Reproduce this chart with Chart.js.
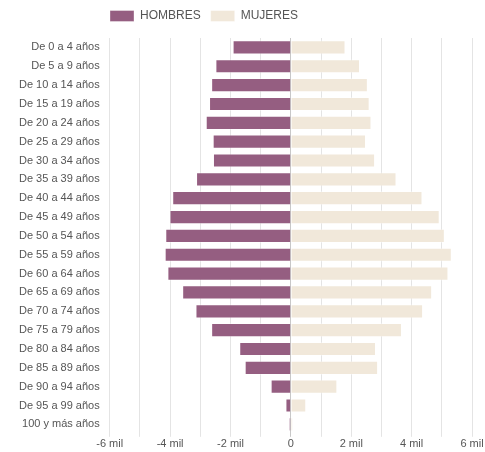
<!DOCTYPE html>
<html>
<head>
<meta charset="utf-8">
<script src="https://cdn.jsdelivr.net/npm/chart.js@4"></script>
<style>
  html, body { margin: 0; padding: 0; background: #fff; }
  #wrap { width: 485px; height: 452px; position: relative; }
</style>
</head>
<body>
<div id="wrap"><canvas id="c"></canvas></div>
<script>
const categories = ["De 0 a 4 años","De 5 a 9 años","De 10 a 14 años","De 15 a 19 años","De 20 a 24 años","De 25 a 29 años","De 30 a 34 años","De 35 a 39 años","De 40 a 44 años","De 45 a 49 años","De 50 a 54 años","De 55 a 59 años","De 60 a 64 años","De 65 a 69 años","De 70 a 74 años","De 75 a 79 años","De 80 a 84 años","De 85 a 89 años","De 90 a 94 años","De 95 a 99 años","100 y más años"];
const hombres = [-1930,-2500,-2640,-2710,-2820,-2590,-2580,-3140,-3930,-4020,-4160,-4180,-4090,-3600,-3160,-2640,-1710,-1530,-670,-180,-60];
const mujeres = [1810,2290,2550,2610,2670,2490,2790,3500,4360,4930,5100,5330,5220,4680,4380,3680,2820,2890,1540,510,70];
const seriesNames = ["HOMBRES","MUJERES"];
const xMin = -6000, xMax = 6000, xStep = 1000;

const FONT = 'Liberation Sans, Arial, sans-serif';

const legendTweak = {
  id: 'legendTweak',
  beforeInit(chart) {
    const lg = chart.legend;
    if (lg) {
      const origFit = lg.fit;
      lg.fit = function() { origFit.call(this); this.height += 6; };
    }
  },
  beforeDraw(chart) {
    if (chart.legend) { chart.legend.left = 100; }
  }
};

new Chart(document.getElementById('c'), {
  type: 'bar',
  data: {
    labels: categories,
    datasets: [
      { label: seriesNames[0], data: hombres, backgroundColor: '#955e81', borderColor: 'rgba(255,255,255,0.35)', borderWidth: 1, categoryPercentage: 0.8, barPercentage: 0.94 },
      { label: seriesNames[1], data: mujeres, backgroundColor: '#f1e8da', borderColor: 'rgba(255,255,255,0.35)', borderWidth: 1, categoryPercentage: 0.8, barPercentage: 0.94 }
    ]
  },
  plugins: [legendTweak],
  options: {
    indexAxis: 'y',
    responsive: true,
    maintainAspectRatio: false,
    animation: false,
    layout: { padding: { left: 9, right: 13, top: 0, bottom: 0 } },
    plugins: {
      legend: {
        position: 'top',
        align: 'start',
        labels: {
          boxWidth: 24, boxHeight: 11, padding: 10,
          color: '#555',
          font: { family: FONT, size: 12 }
        }
      },
      tooltip: { enabled: false }
    },
    scales: {
      x: {
        stacked: true,
        min: xMin, max: xMax,
        ticks: {
          stepSize: xStep,
          autoSkip: false,
          maxRotation: 0,
          padding: 1,
          color: '#555',
          font: { family: FONT, size: 11 },
          callback: function(v) {
            if (v % 2000 !== 0) return '';
            if (v === 0) return '0';
            return (v / 1000) + ' mil';
          }
        },
        grid: {
          color: ctx => (ctx.tick && ctx.tick.value === 0) ? '#c8c8c8' : '#e4e4e4',
          tickLength: 3,
          drawTicks: true
        },
        border: { display: false }
      },
      y: {
        stacked: true,
        grid: { display: false, drawTicks: false },
        border: { display: false },
        ticks: {
          padding: 10,
          color: '#555',
          autoSkip: false,
          font: { family: FONT, size: 11 }
        }
      }
    }
  }
});
</script>
</body>
</html>
